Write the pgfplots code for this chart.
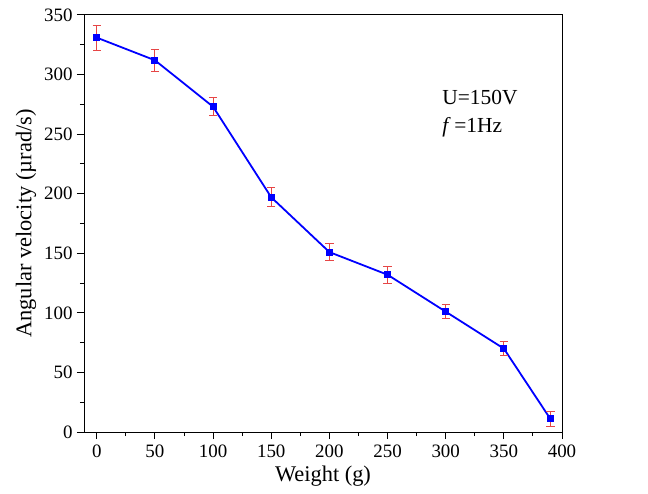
\documentclass[border=0pt]{standalone}
\usepackage{pgfplots}
\pgfplotsset{compat=1.18}
\usepackage{fontspec}
\setmainfont{Liberation Serif}
\definecolor{errred}{RGB}{230,70,70}
\begin{document}
\begin{tikzpicture}
\begin{axis}[
  scale only axis,
  width=478bp, height=417bp,
  xmin=-11, xmax=400, ymin=0, ymax=350,
  xtick={0,50,...,400}, ytick={0,50,...,350},
  minor x tick num=1, minor y tick num=1,
  tick align=outside,
  xtick pos=bottom, ytick pos=left,
  major tick length=7bp, minor tick length=4bp,
  tick style={black, line width=1pt},
  axis line style={line width=1pt},
  clip=false,
  /pgf/number format/assume math mode=true,
  ticklabel style={font=\fontsize{19}{19}\selectfont},
  xticklabel style={yshift=-2bp},
  yticklabel style={xshift=-1bp},
  xlabel={Weight (g)},
  ylabel={Angular velocity (\textmu rad/s)},
  every axis x label/.style={at={(axis description cs:0.5,0)}, anchor=base, yshift=-49bp, font=\fontsize{22.5}{22.5}\selectfont},
  every axis y label/.style={at={(axis description cs:-0.1213,0.5)}, anchor=center, rotate=90, font=\fontsize{22.5}{22.5}\selectfont},
]
\addplot+[blue, line width=1.8pt, mark=square*, mark size=2.6pt, mark options={blue, solid},
  error bars/.cd, y dir=both, y explicit,
  error bar style={errred, line width=0.9pt},
  error mark options={rotate=90, errred, mark size=4.2pt, line width=0.9pt}]
coordinates {
 (0,331) +- (0,10.5)
 (50,312) +- (0,9.5)
 (100,273) +- (0,7.5)
 (150,197) +- (0,8)
 (200,151) +- (0,7)
 (250,132) +- (0,7)
 (300,101) +- (0,6)
 (350,70) +- (0,6)
 (390,11) +- (0,6)
};
\node[anchor=base west, font=\fontsize{21.5}{21.5}\selectfont, inner sep=0pt] at (axis cs:297,275) {U=150V};
\node[anchor=base west, font=\fontsize{21.5}{21.5}\selectfont, inner sep=0pt] at (axis cs:297,251) {\textit{f}\,=1Hz};
\path (rel axis cs:0,0) ++(-84bp,-62bp) coordinate (bbsw);
\path (rel axis cs:1,1) ++(86bp,15bp) coordinate (bbne);
\path (bbsw) rectangle (bbne);
\end{axis}
\end{tikzpicture}
\end{document}
